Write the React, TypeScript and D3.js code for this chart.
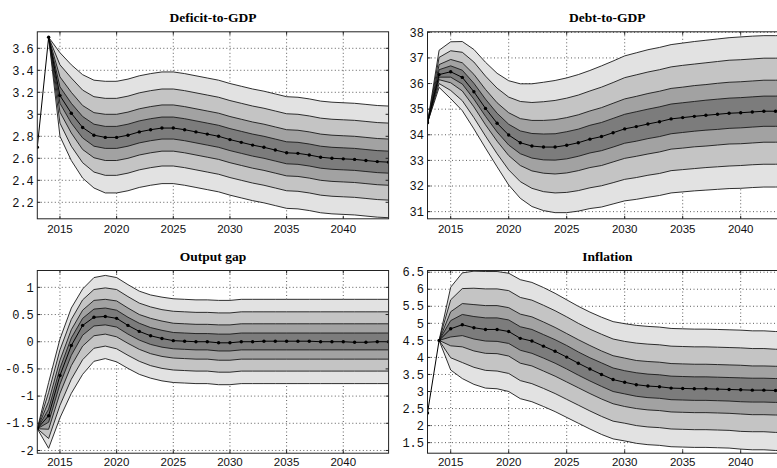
import * as d3 from "d3";

// years on the x axis
const years = [
  2013, 2014, 2015, 2016, 2017, 2018, 2019, 2020, 2021, 2022, 2023, 2024, 2025,
  2026, 2027, 2028, 2029, 2030, 2031, 2032, 2033, 2034, 2035, 2036, 2037, 2038,
  2039, 2040, 2041, 2042, 2043, 2044,
];
const xTicks = [2015, 2020, 2025, 2030, 2035, 2040];

// Deficit-to-GDP (bands start in 2014)
const deficitMedian = [
  2.7, 3.7, 3.17, 3.01, 2.88, 2.81, 2.79, 2.79, 2.81, 2.84, 2.86, 2.875, 2.875,
  2.86, 2.84, 2.82, 2.8, 2.77, 2.745, 2.72, 2.7, 2.675, 2.65, 2.645, 2.63, 2.61,
  2.6, 2.595, 2.59, 2.58, 2.57, 2.565,
];
const deficitUpper = [
  [3.7, 3.25, 3.1, 2.98, 2.91, 2.89, 2.89, 2.91, 2.94, 2.96, 2.975, 2.975, 2.96, 2.94, 2.92, 2.9, 2.87, 2.845, 2.82, 2.8, 2.775, 2.75, 2.745, 2.73, 2.71, 2.7, 2.695, 2.69, 2.68, 2.67, 2.665],
  [3.7, 3.34, 3.2, 3.08, 3.015, 3.0, 3.0, 3.02, 3.05, 3.07, 3.085, 3.085, 3.07, 3.05, 3.03, 3.01, 2.98, 2.955, 2.93, 2.91, 2.885, 2.86, 2.855, 2.84, 2.82, 2.81, 2.805, 2.8, 2.79, 2.78, 2.775],
  [3.7, 3.45, 3.33, 3.22, 3.16, 3.145, 3.145, 3.165, 3.195, 3.215, 3.23, 3.23, 3.215, 3.195, 3.175, 3.155, 3.125, 3.1, 3.075, 3.055, 3.03, 3.005, 3.0, 2.985, 2.965, 2.955, 2.95, 2.945, 2.935, 2.925, 2.92],
  [3.7, 3.56, 3.45, 3.36, 3.31, 3.3, 3.3, 3.32, 3.35, 3.37, 3.385, 3.385, 3.37, 3.35, 3.33, 3.31, 3.28, 3.255, 3.23, 3.21, 3.185, 3.16, 3.155, 3.14, 3.12, 3.11, 3.105, 3.1, 3.09, 3.08, 3.075],
];
const deficitLower = [
  [3.7, 3.1, 2.92, 2.785, 2.71, 2.69, 2.69, 2.71, 2.74, 2.76, 2.775, 2.775, 2.76, 2.74, 2.72, 2.7, 2.67, 2.645, 2.62, 2.6, 2.575, 2.55, 2.545, 2.53, 2.51, 2.5, 2.495, 2.49, 2.48, 2.47, 2.465],
  [3.7, 3.02, 2.83, 2.68, 2.605, 2.58, 2.58, 2.6, 2.63, 2.65, 2.665, 2.665, 2.65, 2.63, 2.61, 2.59, 2.56, 2.535, 2.51, 2.49, 2.465, 2.44, 2.435, 2.42, 2.4, 2.39, 2.385, 2.38, 2.37, 2.36, 2.355],
  [3.7, 2.92, 2.71, 2.56, 2.475, 2.445, 2.445, 2.465, 2.495, 2.515, 2.53, 2.53, 2.515, 2.495, 2.475, 2.455, 2.425, 2.4, 2.375, 2.355, 2.33, 2.305, 2.3, 2.285, 2.265, 2.255, 2.25, 2.245, 2.235, 2.225, 2.22],
  [3.7, 2.8, 2.58, 2.42, 2.33, 2.285, 2.285, 2.305, 2.335, 2.355, 2.37, 2.37, 2.355, 2.335, 2.315, 2.295, 2.265, 2.24, 2.215, 2.195, 2.17, 2.145, 2.14, 2.125, 2.105, 2.095, 2.09, 2.085, 2.075, 2.065, 2.06],
];

// Debt-to-GDP (bands start in 2013)
const debtMedian = [
  34.47, 36.35, 36.46, 36.24, 35.68, 35.03, 34.45, 33.99, 33.69, 33.56, 33.52,
  33.52, 33.59, 33.69, 33.83, 33.93, 34.08, 34.23, 34.32, 34.42, 34.51, 34.62,
  34.67, 34.72, 34.76, 34.8, 34.84, 34.86, 34.89, 34.92, 34.92, 34.93,
];
const debtUpper = [
  [34.47, 36.54, 36.69, 36.52, 36.01, 35.39, 34.84, 34.41, 34.15, 34.05, 34.03, 34.04, 34.12, 34.22, 34.37, 34.48, 34.64, 34.8, 34.9, 35.0, 35.09, 35.2, 35.25, 35.3, 35.35, 35.39, 35.43, 35.45, 35.48, 35.51, 35.51, 35.52],
  [34.47, 36.74, 36.94, 36.81, 36.36, 35.77, 35.25, 34.86, 34.63, 34.56, 34.56, 34.59, 34.67, 34.78, 34.93, 35.06, 35.23, 35.4, 35.5, 35.61, 35.7, 35.81, 35.86, 35.92, 35.96, 36.01, 36.05, 36.07, 36.1, 36.13, 36.13, 36.14],
  [34.47, 37.02, 37.28, 37.22, 36.84, 36.29, 35.82, 35.47, 35.3, 35.26, 35.29, 35.34, 35.43, 35.55, 35.71, 35.86, 36.04, 36.23, 36.34, 36.45, 36.54, 36.65, 36.71, 36.76, 36.81, 36.86, 36.91, 36.93, 36.96, 36.99, 36.99, 37.0],
  [34.47, 37.3, 37.63, 37.64, 37.33, 36.83, 36.4, 36.11, 35.99, 35.99, 36.05, 36.12, 36.22, 36.35, 36.51, 36.69, 36.88, 37.08, 37.2, 37.32, 37.41, 37.52, 37.58, 37.64, 37.69, 37.74, 37.79, 37.82, 37.85, 37.87, 37.87, 37.88],
];
const debtLower = [
  [34.47, 36.25, 36.25, 35.98, 35.39, 34.72, 34.11, 33.6, 33.26, 33.09, 33.02, 33.01, 33.06, 33.16, 33.29, 33.38, 33.52, 33.67, 33.75, 33.85, 33.93, 34.04, 34.09, 34.14, 34.18, 34.21, 34.25, 34.27, 34.3, 34.33, 34.33, 34.34],
  [34.47, 36.15, 36.03, 35.71, 35.09, 34.39, 33.75, 33.19, 32.8, 32.59, 32.5, 32.47, 32.51, 32.6, 32.72, 32.8, 32.94, 33.08, 33.16, 33.25, 33.33, 33.44, 33.48, 33.53, 33.56, 33.6, 33.64, 33.65, 33.68, 33.71, 33.71, 33.72],
  [34.47, 36.0, 35.73, 35.33, 34.67, 33.95, 33.26, 32.63, 32.17, 31.91, 31.78, 31.73, 31.75, 31.82, 31.93, 32.01, 32.13, 32.26, 32.33, 32.42, 32.49, 32.6, 32.64, 32.68, 32.72, 32.75, 32.78, 32.8, 32.83, 32.85, 32.85, 32.86],
  [34.47, 35.85, 35.41, 34.94, 34.23, 33.48, 32.75, 32.04, 31.52, 31.2, 31.04, 30.96, 30.96, 31.02, 31.12, 31.18, 31.3, 31.42, 31.48, 31.56, 31.63, 31.73, 31.77, 31.81, 31.84, 31.87, 31.9, 31.91, 31.94, 31.96, 31.96, 31.97],
];

// Output gap (bands start in 2013)
const gapMedian = [
  -1.6, -1.36, -0.62, -0.07, 0.3, 0.45, 0.465, 0.43, 0.3, 0.19, 0.11, 0.06, 0.02,
  0.01, 0.0, 0.0, -0.02, -0.02, 0.0, 0.0, 0.01, 0.01, 0.01, 0.01, 0.01, 0.0, 0.0,
  0.0, -0.01, -0.01, 0.0, 0.0,
];
const gapUpper = [
  [-1.6, -1.24, -0.49, 0.07, 0.43, 0.6, 0.62, 0.58, 0.45, 0.34, 0.26, 0.21, 0.17, 0.16, 0.15, 0.15, 0.14, 0.14, 0.16, 0.16, 0.16, 0.16, 0.16, 0.16, 0.16, 0.16, 0.16, 0.16, 0.16, 0.16, 0.16, 0.16],
  [-1.6, -1.1, -0.34, 0.22, 0.58, 0.76, 0.78, 0.75, 0.62, 0.5, 0.43, 0.38, 0.34, 0.33, 0.32, 0.32, 0.31, 0.31, 0.33, 0.33, 0.33, 0.33, 0.33, 0.33, 0.33, 0.33, 0.33, 0.33, 0.33, 0.33, 0.33, 0.33],
  [-1.6, -0.93, -0.15, 0.41, 0.77, 0.96, 0.99, 0.96, 0.83, 0.71, 0.64, 0.59, 0.56, 0.55, 0.54, 0.54, 0.53, 0.53, 0.55, 0.55, 0.55, 0.55, 0.55, 0.55, 0.55, 0.55, 0.55, 0.55, 0.55, 0.55, 0.55, 0.55],
  [-1.6, -0.75, 0.05, 0.62, 0.97, 1.18, 1.22, 1.18, 1.05, 0.93, 0.86, 0.82, 0.79, 0.78, 0.77, 0.77, 0.76, 0.76, 0.78, 0.78, 0.78, 0.78, 0.78, 0.78, 0.78, 0.78, 0.78, 0.78, 0.78, 0.78, 0.78, 0.78],
];
const gapLower = [
  [-1.6, -1.48, -0.78, -0.25, 0.12, 0.29, 0.31, 0.27, 0.14, 0.03, -0.05, -0.1, -0.13, -0.14, -0.15, -0.15, -0.17, -0.17, -0.15, -0.15, -0.15, -0.15, -0.15, -0.15, -0.15, -0.15, -0.15, -0.15, -0.15, -0.15, -0.15, -0.15],
  [-1.6, -1.61, -0.95, -0.44, -0.08, 0.11, 0.14, 0.09, -0.03, -0.14, -0.22, -0.27, -0.3, -0.31, -0.32, -0.32, -0.34, -0.34, -0.32, -0.32, -0.32, -0.32, -0.32, -0.32, -0.32, -0.32, -0.32, -0.32, -0.32, -0.32, -0.32, -0.32],
  [-1.6, -1.78, -1.17, -0.69, -0.33, -0.12, -0.08, -0.13, -0.25, -0.36, -0.44, -0.49, -0.52, -0.53, -0.54, -0.54, -0.56, -0.56, -0.54, -0.54, -0.54, -0.54, -0.54, -0.54, -0.54, -0.54, -0.54, -0.54, -0.54, -0.54, -0.54, -0.54],
  [-1.6, -1.96, -1.4, -0.95, -0.6, -0.36, -0.31, -0.37, -0.49, -0.6, -0.67, -0.72, -0.75, -0.76, -0.77, -0.77, -0.79, -0.79, -0.77, -0.77, -0.77, -0.77, -0.77, -0.77, -0.77, -0.77, -0.77, -0.77, -0.77, -0.77, -0.77, -0.77],
];

// Inflation (bands start in 2014)
const inflMedian = [
  2.37, 4.5, 4.84, 4.96, 4.87, 4.82, 4.82, 4.76, 4.56, 4.48, 4.33, 4.18, 4.01,
  3.83, 3.66, 3.5, 3.35, 3.27, 3.2, 3.16, 3.14, 3.1, 3.09, 3.08, 3.08, 3.07, 3.06,
  3.05, 3.04, 3.04, 3.03, 3.03,
];
const inflUpper = [
  [4.5, 5.08, 5.26, 5.2, 5.16, 5.16, 5.1, 4.9, 4.82, 4.67, 4.52, 4.35, 4.16, 3.99, 3.84, 3.69, 3.61, 3.55, 3.51, 3.49, 3.45, 3.44, 3.43, 3.43, 3.42, 3.41, 3.4, 3.39, 3.39, 3.38, 3.38],
  [4.5, 5.34, 5.58, 5.55, 5.52, 5.52, 5.46, 5.27, 5.19, 5.04, 4.88, 4.7, 4.52, 4.35, 4.19, 4.05, 3.98, 3.91, 3.88, 3.86, 3.82, 3.81, 3.8, 3.8, 3.79, 3.78, 3.77, 3.75, 3.75, 3.74, 3.74],
  [4.5, 5.69, 6.02, 6.03, 6.01, 6.01, 5.96, 5.76, 5.68, 5.53, 5.37, 5.19, 5.0, 4.83, 4.68, 4.54, 4.47, 4.42, 4.39, 4.37, 4.33, 4.32, 4.31, 4.31, 4.3, 4.29, 4.28, 4.26, 4.26, 4.24, 4.24],
  [4.5, 6.06, 6.48, 6.53, 6.52, 6.52, 6.47, 6.28, 6.2, 6.05, 5.88, 5.69, 5.5, 5.33, 5.18, 5.05, 4.99, 4.94, 4.91, 4.89, 4.85, 4.84, 4.83, 4.83, 4.82, 4.81, 4.8, 4.78, 4.78, 4.76, 4.76],
];
const inflLower = [
  [4.5, 4.6, 4.64, 4.54, 4.48, 4.47, 4.41, 4.21, 4.12, 3.98, 3.83, 3.66, 3.48, 3.31, 3.15, 3.0, 2.93, 2.86, 2.82, 2.8, 2.76, 2.75, 2.74, 2.74, 2.73, 2.72, 2.7, 2.69, 2.69, 2.68, 2.68],
  [4.5, 4.34, 4.31, 4.19, 4.12, 4.11, 4.04, 3.83, 3.75, 3.6, 3.45, 3.28, 3.11, 2.94, 2.78, 2.64, 2.56, 2.5, 2.46, 2.44, 2.4, 2.39, 2.38, 2.38, 2.37, 2.36, 2.34, 2.32, 2.32, 2.31, 2.31],
  [4.5, 3.99, 3.85, 3.71, 3.62, 3.6, 3.53, 3.32, 3.23, 3.09, 2.94, 2.77, 2.6, 2.43, 2.27, 2.13, 2.07, 2.0, 1.96, 1.94, 1.9, 1.89, 1.88, 1.88, 1.87, 1.86, 1.83, 1.82, 1.82, 1.8, 1.8],
  [4.5, 3.63, 3.38, 3.21, 3.1, 3.08, 3.0, 2.79, 2.7, 2.56, 2.41, 2.24, 2.07, 1.9, 1.74, 1.61, 1.55, 1.48, 1.44, 1.42, 1.38, 1.37, 1.36, 1.36, 1.35, 1.34, 1.31, 1.29, 1.29, 1.27, 1.27],
];

// inner band -> outer band
const bandColors = ["#7c7c7c", "#a2a2a2", "#c4c4c4", "#e2e2e2"];

interface PanelSpec {
  title: string;
  median: number[];
  upper: number[][];
  lower: number[][];
  yDomain: [number, number];
  yTicks: number[];
  left: number;
  right: number;
  top: number;
  bottom: number;
  labelGap: number;
}

const panels: PanelSpec[] = [
  {
    title: "Deficit-to-GDP",
    median: deficitMedian,
    upper: deficitUpper,
    lower: deficitLower,
    yDomain: [2.05, 3.75],
    yTicks: [2.2, 2.4, 2.6, 2.8, 3, 3.2, 3.4, 3.6],
    left: 37.3,
    right: 388.6,
    top: 31.8,
    bottom: 218.8,
    labelGap: 14.5,
  },
  {
    title: "Debt-to-GDP",
    median: debtMedian,
    upper: debtUpper,
    lower: debtLower,
    yDomain: [30.72, 38.02],
    yTicks: [31, 32, 33, 34, 35, 36, 37, 38],
    left: 427.5,
    right: 787.1,
    top: 31.8,
    bottom: 218.8,
    labelGap: 14.5,
  },
  {
    title: "Output gap",
    median: gapMedian,
    upper: gapUpper,
    lower: gapLower,
    yDomain: [-2.05, 1.31],
    yTicks: [-2, -1.5, -1, -0.5, 0, 0.5, 1],
    left: 37.3,
    right: 388.6,
    top: 270.5,
    bottom: 453.2,
    labelGap: 12.5,
  },
  {
    title: "Inflation",
    median: inflMedian,
    upper: inflUpper,
    lower: inflLower,
    yDomain: [1.19, 6.55],
    yTicks: [1.5, 2, 2.5, 3, 3.5, 4, 4.5, 5, 5.5, 6, 6.5],
    left: 427.5,
    right: 787.1,
    top: 270.5,
    bottom: 453.2,
    labelGap: 12.5,
  },
];

function Panel({ p, idx }: { p: PanelSpec; idx: number }) {
  const x = d3.scaleLinear().domain([2013, 2044]).range([p.left, p.right]);
  const y = d3.scaleLinear().domain(p.yDomain).range([p.bottom, p.top]);

  const off = years.length - p.upper[0].length;
  const bandYears = years.slice(off);
  const idxs = bandYears.map((_, i) => i);

  const bandLine = (vals: number[]) =>
    d3
      .line<number>()
      .x((i) => x(bandYears[i]))
      .y((i) => y(vals[i]))(idxs) ?? "";

  const medianLine = d3
    .line<number>()
    .x((d, i) => x(years[i]))
    .y((d) => y(d))(p.median) ?? "";

  const clipId = `clip-${idx}`;
  const w = p.right - p.left;
  const h = p.bottom - p.top;
  const tick = 3;

  return (
    <g>
      <defs>
        <clipPath id={clipId}>
          <rect x={p.left} y={p.top} width={w} height={h} />
        </clipPath>
      </defs>

      {/* grid */}
      <g stroke="#333" strokeWidth={0.8} strokeDasharray="1,2.5">
        {xTicks.map((t) => (
          <line key={t} x1={x(t)} x2={x(t)} y1={p.top} y2={p.bottom} />
        ))}
        {p.yTicks.map((t) => (
          <line key={t} x1={p.left} x2={p.right} y1={y(t)} y2={y(t)} />
        ))}
      </g>

      <g clipPath={`url(#${clipId})`}>
        {/* bands, outer first */}
        {[3, 2, 1, 0].map((k) => {
          const area = d3
            .area<number>()
            .x((i) => x(bandYears[i]))
            .y0((i) => y(p.lower[k][i]))
            .y1((i) => y(p.upper[k][i]));
          return <path key={k} d={area(idxs) ?? ""} fill={bandColors[k]} />;
        })}
        {[0, 1, 2, 3].map((k) => (
          <g key={k} fill="none" stroke="#1a1a1a" strokeWidth={0.9}>
            <path d={bandLine(p.upper[k])} />
            <path d={bandLine(p.lower[k])} />
          </g>
        ))}
        <path d={medianLine} fill="none" stroke="#000" strokeWidth={1} />
        {p.median.map((d, i) => (
          <circle key={i} cx={x(years[i])} cy={y(d)} r={1.7} fill="#000" />
        ))}
      </g>

      {/* box and ticks */}
      <rect
        x={p.left}
        y={p.top}
        width={w}
        height={h}
        fill="none"
        stroke="#222"
        strokeWidth={1}
      />
      <g stroke="#222" strokeWidth={1}>
        {xTicks.map((t) => (
          <g key={t}>
            <line x1={x(t)} x2={x(t)} y1={p.bottom} y2={p.bottom - tick} />
            <line x1={x(t)} x2={x(t)} y1={p.top} y2={p.top + tick} />
          </g>
        ))}
        {p.yTicks.map((t) => (
          <g key={t}>
            <line x1={p.left} x2={p.left + tick} y1={y(t)} y2={y(t)} />
            <line x1={p.right} x2={p.right - tick} y1={y(t)} y2={y(t)} />
          </g>
        ))}
      </g>

      <g fontFamily="'Liberation Sans', Arial, sans-serif" fontSize={11.5} fill="#111">
        {xTicks.map((t) => (
          <text key={t} x={x(t)} y={p.bottom + p.labelGap} textAnchor="middle">
            {t}
          </text>
        ))}
      </g>
      <g fontFamily="'Liberation Mono', monospace" fontSize={12} fill="#111">
        {p.yTicks.map((t) => (
          <text key={t} x={p.left - 3.5} y={y(t)} dy="0.35em" textAnchor="end">
            {String(t)}
          </text>
        ))}
      </g>

      <text
        x={(p.left + p.right) / 2}
        y={p.top - 9.5}
        textAnchor="middle"
        fontFamily="'Liberation Serif', 'Times New Roman', serif"
        fontWeight="bold"
        fontSize={13.5}
        fill="#000"
      >
        {p.title}
      </text>
    </g>
  );
}

export default function App() {
  return (
    <div style={{ width: 777, height: 468, overflow: "hidden" }}>
      <style>{`body{margin:0}`}</style>
      <svg width={777} height={468} style={{ display: "block", background: "#fff" }}>
        {panels.map((p, i) => (
          <Panel key={p.title} p={p} idx={i} />
        ))}
      </svg>
    </div>
  );
}
